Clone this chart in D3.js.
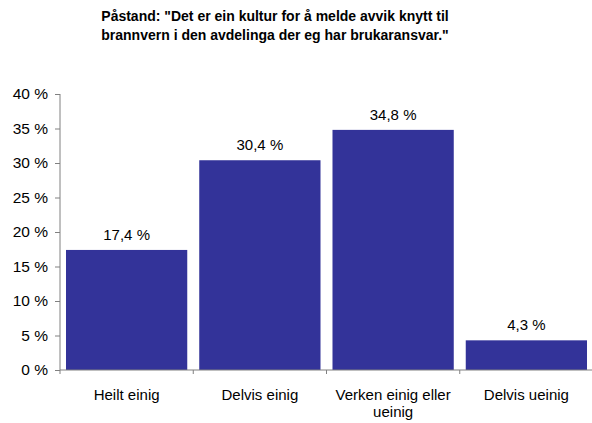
<!DOCTYPE html>
<html lang="no">
  <head>
    <meta charset="UTF-8" />
    <title>Påstand</title>
    <script src="https://d3js.org/d3.v7.min.js"></script>
    <style>
      body { margin: 0; background: #fff; }
      text { font-family: "Liberation Sans", Arial, sans-serif; fill: #000; }
    </style>
  </head>
  <body>
    <div id="chart"></div>
    <script>
      // data
      const categories = ['Heilt einig', 'Delvis einig', 'Verken einig eller ueinig', 'Delvis ueinig'];
      const categoryLines = [['Heilt einig'], ['Delvis einig'], ['Verken einig eller', 'ueinig'], ['Delvis ueinig']];
      const values = [17.4, 30.4, 34.8, 4.3];
      const yTicks = [0, 5, 10, 15, 20, 25, 30, 35, 40];
      const titleLines = ['Påstand: "Det er ein kultur for å melde avvik knytt til', 'brannvern i den avdelinga der eg har brukaransvar."'];

      const W = 592, H = 423;
      const margin = { top: 94, right: -1, bottom: 53, left: 60 };
      const width = W - margin.left - margin.right;
      const height = H - margin.top - margin.bottom;

      const svg = d3.select('#chart')
        .append('svg')
          .attr('width', W)
          .attr('height', H);

      // title
      svg.append('text')
        .attr('x', 275)
        .attr('y', 21)
        .attr('text-anchor', 'middle')
        .style('font-size', '14px')
        .style('font-weight', 'bold')
        .selectAll('tspan')
        .data(titleLines)
        .join('tspan')
          .attr('x', 275)
          .attr('dy', (d, i) => i ? 19 : 0)
          .text(d => d);

      const g = svg.append('g')
        .attr('transform', `translate(${margin.left},${margin.top})`);

      const x = d3.scaleBand()
        .domain(categories)
        .range([0, width])
        .paddingInner(0.09)
        .paddingOuter(0.045);

      const y = d3.scaleLinear()
        .domain([0, 40])
        .range([height, 0]);

      // bars
      g.selectAll('.bar')
        .data(values)
        .join('rect')
          .attr('class', 'bar')
          .attr('x', (d, i) => x(categories[i]))
          .attr('y', d => y(d))
          .attr('width', x.bandwidth())
          .attr('height', d => height - y(d))
          .attr('fill', '#333399');

      // value labels
      g.selectAll('.val')
        .data(values)
        .join('text')
          .attr('class', 'val')
          .attr('x', (d, i) => x(categories[i]) + x.bandwidth() / 2)
          .attr('y', d => y(d) - 10)
          .attr('text-anchor', 'middle')
          .style('font-size', '15px')
          .text(d => d3.format('.1f')(d).replace('.', ',') + ' %');

      // y axis
      const yAxis = g.append('g')
        .call(d3.axisLeft(y).tickValues(yTicks).tickSize(5).tickPadding(7).tickFormat(d => d + ' %'));
      yAxis.select('.domain').attr('stroke', '#808080').attr('d', `M0,0V${height}`);
      yAxis.selectAll('.tick line').attr('stroke', '#808080');
      yAxis.selectAll('.tick text')
        .style('font-size', '15.5px')
        .style('font-family', '"Liberation Sans", Arial, sans-serif')
        .attr('fill', '#000');

      // x axis: ticks at category boundaries
      const bounds = d3.range(categories.length + 1).map(i => i * width / categories.length);
      const xAxis = g.append('g').attr('transform', `translate(0,${height})`);
      xAxis.append('line')
        .attr('x1', 0).attr('x2', width)
        .attr('stroke', '#808080');
      xAxis.selectAll('.xt')
        .data(bounds)
        .join('line')
          .attr('class', 'xt')
          .attr('x1', d => d).attr('x2', d => d)
          .attr('y1', 0).attr('y2', 4)
          .attr('stroke', '#808080');

      xAxis.selectAll('.cat')
        .data(categoryLines)
        .join('text')
          .attr('class', 'cat')
          .attr('text-anchor', 'middle')
          .style('font-size', '15px')
          .attr('transform', (d, i) => `translate(${x(categories[i]) + x.bandwidth() / 2},29.5)`)
          .selectAll('tspan')
          .data(d => d)
          .join('tspan')
            .attr('x', 0)
            .attr('dy', (d, i) => i ? 17 : 0)
            .text(d => d);
    </script>
  </body>
</html>
